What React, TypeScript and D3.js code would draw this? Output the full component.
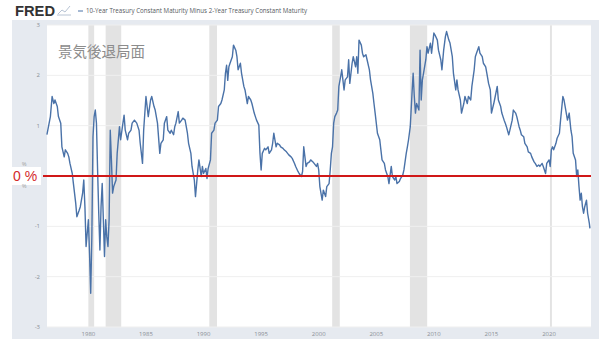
import React from "react";
import * as d3 from "d3";

// ---- Data ----
const years: number[] = [
  1976.4, 1976.7, 1976.85, 1977.0, 1977.1, 1977.3, 1977.4, 1977.6, 1977.7, 1977.9,
  1978.0, 1978.2, 1978.3, 1978.4, 1978.6, 1978.7, 1978.9, 1979.0, 1979.2, 1979.3,
  1979.5, 1979.6, 1979.7, 1979.8, 1980.0, 1980.1, 1980.2, 1980.3, 1980.4, 1980.5,
  1980.6, 1980.7, 1980.8, 1980.9, 1981.0, 1981.1, 1981.2, 1981.3, 1981.4, 1981.5,
  1981.6, 1981.7, 1981.8, 1981.9, 1982.0, 1982.1, 1982.2, 1982.4, 1982.5, 1982.7,
  1982.8, 1983.0, 1983.1, 1983.2, 1983.4, 1983.5, 1983.7, 1983.8, 1984.0, 1984.2,
  1984.4, 1984.5, 1984.7, 1984.8, 1985.0, 1985.2, 1985.4, 1985.5, 1985.7, 1985.8,
  1986.0, 1986.2, 1986.3, 1986.5, 1986.6, 1986.8, 1986.9, 1987.1, 1987.2, 1987.4,
  1987.5, 1987.6, 1987.8, 1987.9, 1988.1, 1988.2, 1988.4, 1988.6, 1988.7, 1988.9,
  1989.0, 1989.2, 1989.3, 1989.4, 1989.5, 1989.6, 1989.8, 1989.9, 1990.0, 1990.2,
  1990.3, 1990.4, 1990.6, 1990.7, 1990.9, 1991.0, 1991.2, 1991.3, 1991.5, 1991.6,
  1991.8, 1991.9, 1992.0, 1992.1, 1992.2, 1992.3, 1992.5, 1992.6, 1992.8, 1992.9,
  1993.0, 1993.2, 1993.3, 1993.5, 1993.6, 1993.8, 1993.9, 1994.1, 1994.2, 1994.4,
  1994.5, 1994.6, 1994.8, 1994.9, 1995.0, 1995.1, 1995.3, 1995.4, 1995.6, 1995.7,
  1995.9, 1996.0, 1996.1, 1996.3, 1996.4, 1996.6, 1996.7, 1996.9, 1997.0, 1997.2,
  1997.3, 1997.4, 1997.6, 1997.7, 1997.9, 1998.0, 1998.2, 1998.3, 1998.5, 1998.6,
  1998.7, 1998.9, 1999.0, 1999.2, 1999.3, 1999.5, 1999.6, 1999.8, 1999.9, 2000.0,
  2000.1, 2000.3, 2000.4, 2000.6, 2000.7, 2000.9, 2001.0, 2001.1, 2001.2, 2001.3,
  2001.4, 2001.55, 2001.65, 2001.75, 2001.9, 2002.0, 2002.2, 2002.3, 2002.5, 2002.6,
  2002.7, 2002.9, 2003.0, 2003.2, 2003.3, 2003.4, 2003.5, 2003.7, 2003.8, 2003.9,
  2004.1, 2004.2, 2004.4, 2004.5, 2004.7, 2004.8, 2004.9, 2005.1, 2005.3, 2005.4,
  2005.5, 2005.7, 2005.8, 2006.0, 2006.1, 2006.3, 2006.4, 2006.6, 2006.7, 2006.8,
  2007.0, 2007.1, 2007.3, 2007.4, 2007.6, 2007.7, 2007.8, 2007.95, 2008.1, 2008.2,
  2008.3, 2008.4, 2008.5, 2008.7, 2008.8, 2008.9, 2009.0, 2009.1, 2009.3, 2009.4,
  2009.5, 2009.7, 2009.8, 2010.0, 2010.1, 2010.3, 2010.4, 2010.6, 2010.7, 2010.85,
  2011.0, 2011.1, 2011.3, 2011.4, 2011.6, 2011.7, 2011.9, 2012.0, 2012.1, 2012.3,
  2012.4, 2012.6, 2012.7, 2012.9, 2013.0, 2013.2, 2013.3, 2013.5, 2013.6, 2013.7,
  2013.9, 2014.0, 2014.2, 2014.3, 2014.5, 2014.6, 2014.75, 2014.9, 2015.0, 2015.2,
  2015.3, 2015.5, 2015.6, 2015.8, 2015.9, 2016.1, 2016.2, 2016.3, 2016.5, 2016.6,
  2016.8, 2016.9, 2017.1, 2017.2, 2017.4, 2017.5, 2017.6, 2017.8, 2017.9, 2018.1,
  2018.2, 2018.4, 2018.5, 2018.7, 2018.8, 2018.95, 2019.1, 2019.2, 2019.4, 2019.5,
  2019.7, 2019.8, 2020.0, 2020.1, 2020.2, 2020.3, 2020.4, 2020.6, 2020.7, 2020.9,
  2021.0, 2021.2, 2021.3, 2021.4, 2021.6, 2021.75, 2021.9, 2022.0, 2022.1, 2022.3,
  2022.4, 2022.5, 2022.6, 2022.7, 2022.8, 2022.9, 2023.0, 2023.1, 2023.25, 2023.35,
  2023.5, 2023.55,
];

const spread: number[] = [
  0.82, 1.18, 1.58, 1.44, 1.51, 1.38, 1.18, 1.05, 0.58, 0.38,
  0.52, 0.45, 0.38, 0.25, 0.05, -0.15, -0.54, -0.81, -0.68, -0.61,
  -0.34, -0.08, -0.61, -1.4, -0.87, -1.54, -2.33, -1.21, 0.78, 1.18,
  1.31, 1.05, 0.12, -0.74, -1.47, -0.61, -0.15, -0.87, -1.6, -0.87,
  -1.21, -1.4, -0.87, 0.91, 0.32, -0.34, -0.21, -0.08, 0.45, 0.98,
  0.72, 1.05, 1.21, 0.91, 0.72, 0.85, 0.91, 1.05, 1.11, 1.05,
  0.91, 0.65, 0.25, 0.91, 1.58, 1.18, 1.51, 1.58, 1.38, 1.31,
  1.05, 0.45, 0.65, 0.72, 1.05, 1.18, 0.91, 0.85, 0.91, 0.82,
  0.98, 1.05, 1.28, 1.05, 1.11, 1.15, 1.11, 0.85, 0.65, 0.45,
  0.19, -0.08, -0.41, -0.15, 0.12, 0.32, -0.01, 0.19, 0.05, 0.15,
  -0.05, 0.15, 0.32, 0.85, 0.91, 1.05, 1.11, 1.38, 1.44, 1.51,
  1.71, 2.04, 2.2, 1.9, 2.17, 2.24, 2.37, 2.6, 2.5, 2.37,
  2.11, 2.24, 2.04, 1.78, 1.71, 1.44, 1.58, 1.51, 1.44, 1.25,
  1.18, 1.11, 1.01, 0.45, 0.12, 0.45, 0.55, 0.52, 0.58, 0.45,
  0.52, 0.65, 0.85, 0.58, 0.65, 0.62, 0.58, 0.55, 0.52, 0.48,
  0.45, 0.42, 0.38, 0.35, 0.25, 0.19, 0.09, 0.05, -0.01, 0.09,
  0.58, 0.19, 0.25, 0.28, 0.32, 0.28, 0.25, 0.19, 0.25, 0.12,
  -0.21, -0.48, -0.28, -0.41, -0.21, -0.15, 0.12, 0.45, 0.58, 1.05,
  1.18, 1.25, 1.31, 1.78, 1.97, 2.11, 1.71, 1.91, 1.97, 2.31,
  1.84, 2.24, 2.37, 2.17, 2.37, 2.04, 2.7, 2.6, 2.44, 2.37,
  2.41, 2.31, 2.11, 1.91, 1.64, 1.44, 1.25, 0.85, 0.72, 0.52,
  0.32, 0.25, 0.12, -0.01, -0.15, 0.19, -0.01, -0.08, -0.01, -0.15,
  -0.11, -0.05, 0.02, 0.12, 0.45, 0.58, 0.72, 0.98, 1.64, 2.04,
  1.58, 1.25, 1.44, 1.31, 2.5, 1.51, 1.91, 2.04, 2.31, 2.57,
  2.44, 2.64, 2.44, 2.84, 2.8, 2.7, 2.5, 2.31, 2.11, 2.5,
  2.77, 2.87, 2.7, 2.64, 2.37, 2.04, 1.71, 1.91, 1.71, 1.51,
  1.25, 1.44, 1.58, 1.44, 1.58, 1.51, 1.78, 2.11, 2.37, 2.44,
  2.57, 2.44, 2.37, 2.24, 2.17, 2.04, 1.84, 1.71, 1.25, 1.44,
  1.55, 1.78, 1.51, 1.38, 1.25, 1.11, 1.05, 0.98, 0.82, 0.91,
  1.11, 1.31, 1.25, 1.18, 0.98, 0.91, 0.82, 0.78, 0.65, 0.58,
  0.48, 0.45, 0.38, 0.28, 0.25, 0.19, 0.22, 0.19, 0.25, 0.19,
  0.05, 0.25, 0.32, 0.19, 0.52, 0.58, 0.52, 0.65, 0.75, 0.85,
  1.11, 1.58, 1.51, 1.38, 1.11, 1.25, 0.91, 0.78, 0.45, 0.32,
  -0.01, 0.12, -0.21, -0.48, -0.34, -0.61, -0.74, -0.61, -0.48, -0.74,
  -0.94, -1.04,
];

const recessionStart: number[] = [1980.0, 1981.5, 1990.5, 2001.17, 2007.92, 2020.08];
const recessionEnd: number[] = [1980.5, 1982.85, 1991.17, 2001.83, 2009.42, 2020.25];

const yTicks: number[] = [3, 2, 1, -1, -2, -3];
const yTickLabels: string[] = ["3", "2", "1", "-1", "-2", "-3"];
const xTicks: number[] = [1980, 1985, 1990, 1995, 2000, 2005, 2010, 2015, 2020];

const titleText = "10-Year Treasury Constant Maturity Minus 2-Year Treasury Constant Maturity";
const recessionLabel = "景気後退局面";
const zeroLabel = "0 %";

export default function App() {
  const W = 600;
  const H = 339;
  const plotL = 47;
  const plotR = 591;
  const plotT = 25;
  const plotB = 327;

  const x = d3.scaleLinear().domain([1976.45, 2023.6]).range([47.5, 590.5]);
  const y = d3.scaleLinear().domain([-3, 3]).range([plotB, plotT]);

  const pts = years.map((yr, i) => [yr, spread[i]] as [number, number]);
  const line = d3
    .line<[number, number]>()
    .x((d) => x(d[0]))
    .y((d) => y(d[1]));

  const gridVals = d3.range(-3, 4);

  return (
    <div style={{ position: "fixed", left: 0, top: 0, width: W, height: H, background: "#fff" }}>
      <svg width={W} height={H} style={{ display: "block" }}>
        {/* page background */}
        <rect x={0} y={0} width={W} height={H} fill="#ffffff" />
        {/* chart frame */}
        <rect x={12} y={20} width={587} height={H - 20} fill="#e6eaf0" />
        {/* plot area */}
        <rect x={plotL} y={plotT} width={plotR - plotL} height={plotB - plotT} fill="#ffffff" />

        {/* recession bands */}
        {recessionStart.map((s, i) => (
          <rect
            key={"r" + i}
            x={x(s)}
            y={plotT}
            width={Math.max(1, x(recessionEnd[i]) - x(s))}
            height={plotB - plotT}
            fill="#e3e3e3"
          />
        ))}

        {/* gridlines */}
        {gridVals.map((v) => (
          <line
            key={"g" + v}
            x1={plotL}
            x2={plotR}
            y1={y(v)}
            y2={y(v)}
            stroke="#efefef"
            strokeWidth={1}
          />
        ))}

        {/* y tick labels */}
        {yTicks.map((v, i) => (
          <text
            key={"yt" + v}
            x={40}
            y={y(v) + 2}
            textAnchor="end"
            fontFamily="'Open Sans', 'Liberation Sans', sans-serif"
            fontSize={6}
            fill="#8a8f96"
          >
            {yTickLabels[i]}
          </text>
        ))}

        {/* x tick labels */}
        {xTicks.map((v) => (
          <text
            key={"xt" + v}
            x={x(v)}
            y={336}
            textAnchor="middle"
            fontFamily="'Open Sans', 'Liberation Sans', sans-serif"
            fontSize={6}
            fill="#8a8f96"
          >
            {v}
          </text>
        ))}

        {/* data line */}
        <path
          d={line(pts) || ""}
          fill="none"
          stroke="#4a72a8"
          strokeWidth={1.4}
          strokeLinejoin="round"
        />

        {/* zero line */}
        <line x1={43} x2={591} y1={y(0)} y2={y(0)} stroke="#d01818" strokeWidth={1.8} />

        {/* zero label */}
        <rect x={12} y={167} width={29} height={18} fill="#ffffff" />
        <text x={22} y={166} fontSize={5} fill="#999" fontFamily="'Liberation Sans', sans-serif">%</text>
        <text x={22} y={188} fontSize={5} fill="#999" fontFamily="'Liberation Sans', sans-serif">%</text>
        <text
          x={13}
          y={y(0) + 5}
          fontFamily="'Liberation Sans', 'DejaVu Sans', sans-serif"
          fontSize={14}
          fill="#d42a2a"
        >
          {zeroLabel}
        </text>

        {/* recession annotation */}
        <text
          x={58}
          y={57}
          fontFamily="'Noto Sans CJK JP', sans-serif"
          fontSize={14.5}
          fill="#8c8c8c"
        >
          {recessionLabel}
        </text>

        {/* header */}
        <text
          x={15}
          y={16}
          fontFamily="'Liberation Sans', 'DejaVu Sans', sans-serif"
          fontWeight="bold"
          fontSize={15}
          fill="#333333"
          textLength={40}
          lengthAdjust="spacingAndGlyphs"
        >
          FRED
        </text>
        <g stroke="#b8c4d4" strokeWidth={1} fill="none">
          <path d="M58,14 L62,10 L65,12 L70,6" />
          <path d="M57,15 L71,15" />
        </g>
        <line x1={78} x2={83} y1={11} y2={11} stroke="#4a72a8" strokeWidth={1} />
        <text
          x={86}
          y={13}
          fontFamily="'Open Sans', 'Liberation Sans', sans-serif"
          fontSize={6.3}
          fill="#555a60"
          textLength={221}
          lengthAdjust="spacingAndGlyphs"
        >
          {titleText}
        </text>
      </svg>
    </div>
  );
}
